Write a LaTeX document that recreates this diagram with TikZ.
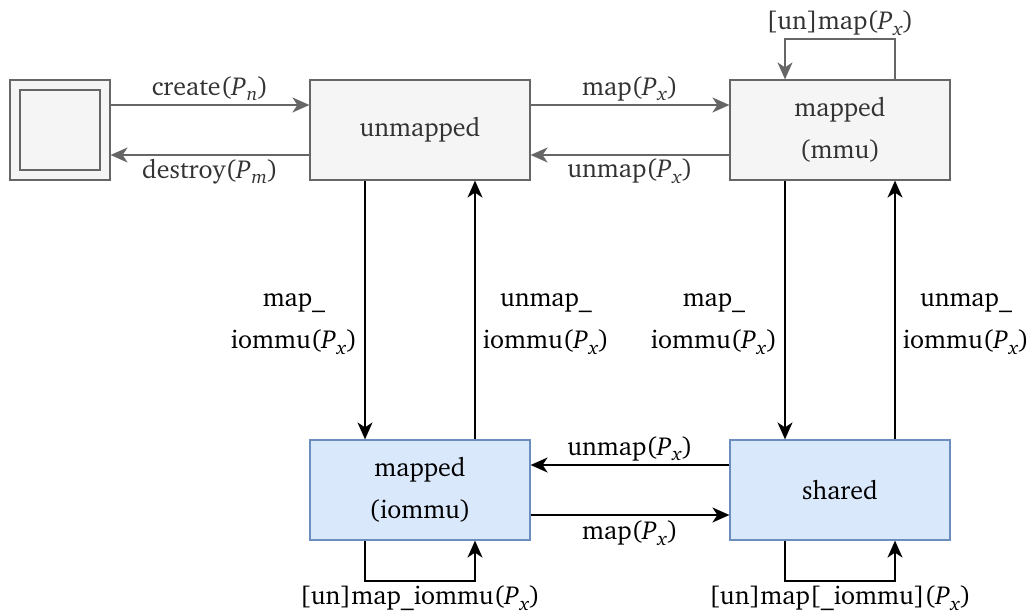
\documentclass[tikz,border=0pt]{standalone}
\usepackage[T1]{fontenc}
\usepackage{charter}
\usetikzlibrary{arrows.meta}
\definecolor{grayline}{HTML}{666666}
\definecolor{grayfill}{HTML}{F5F5F5}
\definecolor{graytext}{HTML}{333333}
\definecolor{bluefill}{HTML}{DAE8FC}
\definecolor{blueline}{HTML}{6C8EBF}
\newcommand\Px{\textit{P}\kern0.04em\raisebox{-0.45ex}{\fontsize{9.5}{10}\selectfont\textit{x}}}
\newcommand\Pn{\textit{P}\kern0.04em\raisebox{-0.45ex}{\fontsize{9.5}{10}\selectfont\textit{n}}}
\newcommand\Pm{\textit{P}\kern0.04em\raisebox{-0.45ex}{\fontsize{9.5}{10}\selectfont\textit{m}}}
\begin{document}
\begin{tikzpicture}[x=0.5pt,y=-0.5pt,
  font=\fontsize{13}{21}\selectfont,
  state/.style={draw=grayline,fill=grayfill,line width=0.6pt,minimum width=110pt,minimum height=50pt,
    inner sep=0pt,text=graytext,align=center},
  iostate/.style={state,draw=blueline,fill=bluefill,text=black},
  gedge/.style={draw=grayline,line width=0.9pt,-{Stealth[length=8.5pt,width=7.5pt,inset=2.5pt]}},
  bedge/.style={draw=black,line width=0.9pt,-{Stealth[length=8.5pt,width=7.5pt,inset=2.5pt]}},
  glabel/.style={text=graytext,inner sep=1.5pt,align=center},
  blabel/.style={text=black,inner sep=1.5pt,align=center}]
\useasboundingbox (0,0) rectangle (1036,614);

% initial state: double-framed square
\node[draw=grayline,fill=grayfill,line width=0.6pt,minimum size=50pt,inner sep=0pt] (init) at (60,130) {};
\node[draw=grayline,fill=grayfill,line width=0.6pt,minimum size=40pt,inner sep=0pt] (initin) at (60,130) {};

% states
\node[state] (un) at (420,130) {unmapped};
\node[state] (mmu) at (840,130) {mapped\\(mmu)};
\node[iostate] (io) at (420,490) {mapped\\(iommu)};
\node[iostate] (sh) at (840,490) {shared};

% create / destroy
\draw[gedge] ([yshift=12.5pt]init.east) -- ([yshift=12.5pt]un.west)
  node[midway,above,glabel] {create(\Pn)};
\draw[gedge] ([yshift=-12.5pt]un.west) -- ([yshift=-12.5pt]init.east)
  node[midway,below,glabel] {destroy(\Pm)};

% unmapped <-> mapped (mmu)
\draw[gedge] ([yshift=12.5pt]un.east) -- ([yshift=12.5pt]mmu.west)
  node[midway,above,glabel] {map(\Px)};
\draw[gedge] ([yshift=-12.5pt]mmu.west) -- ([yshift=-12.5pt]un.east)
  node[midway,below,glabel] {unmap(\Px)};

% self loop on mapped (mmu)
\draw[gedge] ([xshift=27.5pt]mmu.north) -- ++(0,-40) -| ([xshift=-27.5pt]mmu.north)
  node[pos=0.25,above,glabel] {[un]map(\Px)};

% vertical transitions
\draw[bedge] ([xshift=-27.5pt]un.south) -- ([xshift=-27.5pt]io.north)
  node[midway,left,blabel,xshift=-2pt,yshift=-7pt] {map\_\\iommu(\Px)};
\draw[bedge] ([xshift=27.5pt]io.north) -- ([xshift=27.5pt]un.south)
  node[midway,right,blabel,xshift=2pt,yshift=-7pt] {unmap\_\\iommu(\Px)};
\draw[bedge] ([xshift=-27.5pt]mmu.south) -- ([xshift=-27.5pt]sh.north)
  node[midway,left,blabel,xshift=-2pt,yshift=-7pt] {map\_\\iommu(\Px)};
\draw[bedge] ([xshift=27.5pt]sh.north) -- ([xshift=27.5pt]mmu.south)
  node[midway,right,blabel,xshift=2pt,yshift=-7pt] {unmap\_\\iommu(\Px)};

% mapped (iommu) <-> shared
\draw[bedge] ([yshift=12.5pt]sh.west) -- ([yshift=12.5pt]io.east)
  node[midway,above,blabel] {unmap(\Px)};
\draw[bedge] ([yshift=-12.5pt]io.east) -- ([yshift=-12.5pt]sh.west)
  node[midway,below,blabel,yshift=-1pt] {map(\Px)};

% self loops below
\draw[bedge] ([xshift=-27.5pt]io.south) -- ++(0,40) -| ([xshift=27.5pt]io.south)
  node[pos=0.25,below,blabel,yshift=-1pt] {[un]map\_iommu(\Px)};
\draw[bedge] ([xshift=-27.5pt]sh.south) -- ++(0,40) -| ([xshift=27.5pt]sh.south)
  node[pos=0.25,below,blabel,yshift=-1pt] {[un]map[\_iommu](\Px)};
\end{tikzpicture}
\end{document}
